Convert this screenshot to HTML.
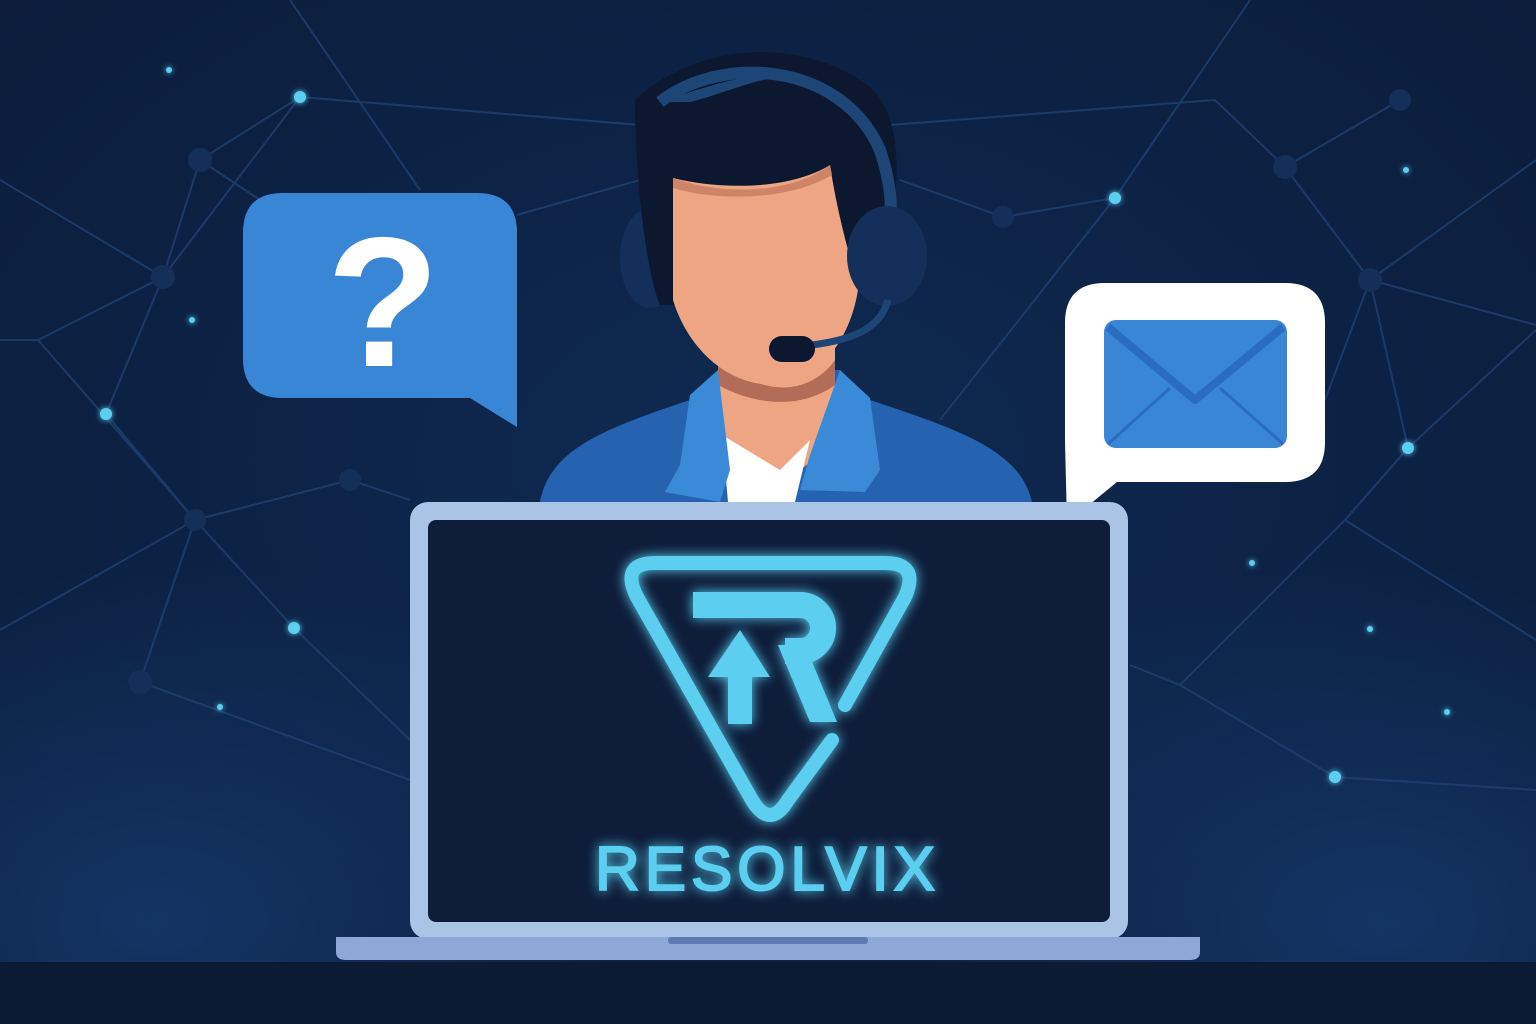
<!DOCTYPE html>
<html><head><meta charset="utf-8"><style>html,body{margin:0;padding:0;background:#0b1d3b;}svg{display:block}</style></head>
<body>
<svg width="1536" height="1024" viewBox="0 0 1536 1024" xmlns="http://www.w3.org/2000/svg">
<defs>
<radialGradient id="bg" cx="0.5" cy="0.45" r="0.75">
<stop offset="0" stop-color="#0f2a52"/><stop offset="1" stop-color="#0a1b38"/></radialGradient>
<radialGradient id="glow1" cx="0.1" cy="0.9" r="0.35"><stop offset="0" stop-color="#173f73" stop-opacity="0.7"/><stop offset="1" stop-color="#173f73" stop-opacity="0"/></radialGradient>
<radialGradient id="glow2" cx="0.9" cy="0.9" r="0.35"><stop offset="0" stop-color="#173f73" stop-opacity="0.7"/><stop offset="1" stop-color="#173f73" stop-opacity="0"/></radialGradient>
<filter id="gl" x="-20%" y="-20%" width="140%" height="140%"><feGaussianBlur stdDeviation="6" result="b"/><feMerge><feMergeNode in="b"/><feMergeNode in="SourceGraphic"/></feMerge></filter>
<filter id="dg"><feGaussianBlur stdDeviation="3" result="b"/><feMerge><feMergeNode in="b"/><feMergeNode in="SourceGraphic"/></feMerge></filter>
</defs>
<rect width="1536" height="1024" fill="url(#bg)"/>
<rect width="1536" height="1024" fill="url(#glow1)"/>
<rect width="1536" height="1024" fill="url(#glow2)"/>
<g stroke="#1f4170" stroke-width="2" fill="none" opacity="0.8">
<polyline points="0,180 163,277 38,340 0,340"/>
<polyline points="300,97 163,277 200,160 300,97 640,125"/>
<polyline points="290,0 420,190"/>
<polyline points="38,340 195,520 350,480 410,500"/>
<polyline points="106,414 195,520 140,682 410,780"/>
<polyline points="0,630 195,520 294,628 410,740"/>
<polyline points="163,277 106,414"/>
<polyline points="200,160 260,200 243,230"/>
<polyline points="517,215 640,180"/>
<polyline points="890,125 1215,100 1285,167 1400,100"/>
<polyline points="1250,0 1115,198 1003,217 900,180"/>
<polyline points="1285,167 1370,280 1536,325"/>
<polyline points="1370,280 1536,160"/>
<polyline points="1370,280 1408,448 1345,520 1180,685 1130,665"/>
<polyline points="1345,520 1536,640"/>
<polyline points="1180,685 1335,777 1536,790"/>
<polyline points="1408,448 1536,330"/>
<polyline points="1115,198 940,420"/>
<polyline points="1325,400 1370,280"/>
</g>
<g fill="#5bcff0" filter="url(#dg)">
<circle cx="300" cy="97" r="6"/><circle cx="106" cy="414" r="6"/><circle cx="294" cy="628" r="6"/>
<circle cx="1115" cy="198" r="6"/><circle cx="1408" cy="448" r="6"/><circle cx="1335" cy="777" r="6"/>
<circle cx="169" cy="70" r="3"/><circle cx="192" cy="320" r="3"/><circle cx="220" cy="707" r="3"/>
<circle cx="1406" cy="170" r="3"/><circle cx="1252" cy="563" r="3"/><circle cx="1370" cy="629" r="3"/><circle cx="1447" cy="712" r="3"/>
</g>
<g fill="#143058"><circle cx="200" cy="160" r="12"/><circle cx="163" cy="277" r="12"/><circle cx="195" cy="520" r="11"/><circle cx="350" cy="480" r="11"/><circle cx="140" cy="682" r="12"/><circle cx="1003" cy="217" r="11"/><circle cx="1285" cy="167" r="12"/><circle cx="1400" cy="100" r="11"/><circle cx="1370" cy="280" r="12"/></g>

<rect x="0" y="962" width="1536" height="62" fill="#0c1a33"/>

<path d="M540,502 C550,450 600,430 690,400 L720,370 L840,370 L870,400 C960,430 1020,450 1032,502 Z" fill="#2563b0"/>
<path d="M718,330 L835,330 L835,440 L778,490 L718,440 Z" fill="#eea583"/>
<path d="M718,355 C760,400 810,395 835,360 L835,385 C800,410 755,405 718,385 Z" fill="#b36c58"/>
<path d="M722,435 L780,470 L810,440 L795,502 L728,502 Z" fill="#ffffff"/>
<path d="M690,395 L718,370 L730,470 L720,502 L665,492 L680,465 Z" fill="#3b8ad8"/>
<path d="M870,398 L840,370 L810,455 L800,490 L865,492 L880,470 Z" fill="#3b8ad8"/>
<ellipse cx="650" cy="258" rx="30" ry="50" fill="#14305a"/>
<path d="M635,100 C700,40 800,40 860,80 C895,100 900,150 895,200 L880,290 L670,305 L660,305 C645,270 635,170 635,100 Z" fill="#0b1830"/>
<path d="M673,178 C720,190 790,190 830,165 C840,230 855,270 858,290 C850,340 820,380 775,385 C720,385 685,340 673,300 Z" fill="#eea583"/>
<path d="M673,178 C720,195 790,195 830,165 L832,175 C790,200 720,202 673,188 Z" fill="#cf8468"/>
<path d="M658,102 C700,90 740,72 790,75 C750,80 720,95 690,102 Z" fill="#1d4677"/>
<path d="M660,102 C720,55 840,60 880,150 C890,180 892,205 890,215" stroke="#1d4677" stroke-width="12" fill="none"/>
<ellipse cx="887" cy="256" rx="40" ry="50" fill="#14305a"/>
<path d="M888,300 C880,330 850,340 812,345" stroke="#1d4677" stroke-width="7" fill="none"/>
<rect x="769" y="336" width="46" height="26" rx="13" fill="#0b1830"/>

<path d="M283,193 L477,193 Q517,193 517,233 L517,427 L470,398 L283,398 Q243,398 243,358 L243,233 Q243,193 283,193 Z" fill="#3a86d6"/>
<text x="383" y="366" text-anchor="middle" font-family="Liberation Sans, sans-serif" font-weight="bold" font-size="185" fill="#ffffff">?</text>

<path d="M1105,283 L1285,283 Q1325,283 1325,323 L1325,442 Q1325,482 1285,482 L1117,482 L1067,523 L1065,442 L1065,323 Q1065,283 1105,283 Z" fill="#ffffff"/>
<rect x="1104" y="320" width="183" height="128" rx="12" fill="#3a86d6"/>
<path d="M1108,327 L1195,400 L1283,327" stroke="#2a6cc0" stroke-width="8" fill="none" stroke-linejoin="round"/>
<path d="M1108,444 L1170,388 M1283,444 L1220,388" stroke="#2a6cc0" stroke-width="3" fill="none"/>

<rect x="410" y="502" width="718" height="437" rx="18" fill="#a9c4e4"/>
<rect x="428" y="520" width="682" height="402" rx="8" fill="#0d1d3a"/>
<path d="M336,937 L1200,937 L1200,952 Q1200,960 1190,960 L346,960 Q336,960 336,952 Z" fill="#8da8d4"/>
<rect x="668" y="937" width="200" height="7" rx="3" fill="#5d7bb0"/>

<g filter="url(#gl)" fill="#5bcff0" stroke="#5bcff0">
<path d="M845,705 L905,597 Q920,563 885,563 L655,563 Q620,563 637,597 L752,800 Q770,830 788,800 L832,740" fill="none" stroke-width="14" stroke-linecap="round" stroke-linejoin="round"/>
<path d="M693,605 L800,605 A23,23 0 0 1 800,651 L785,651" fill="none" stroke-width="26"/>
<path d="M693,592 L712,592 L712,618 L693,618 Z" stroke="none"/>
<path d="M778,645 L805,645 L837,722 L810,722 Z" stroke="none"/>
<path d="M740,630 L770,677 L752,677 L752,724 L728,724 L728,677 L708,677 Z" stroke="none"/>
<text x="595" y="890" font-family="Liberation Sans, sans-serif" font-size="62" textLength="340" lengthAdjust="spacing" stroke-width="2">RESOLVIX</text>
</g>
</svg>
</body></html>
